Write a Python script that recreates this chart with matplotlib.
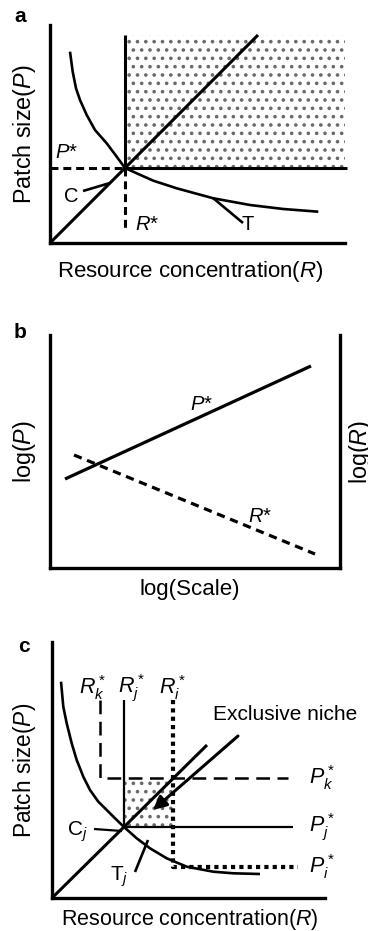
import matplotlib
matplotlib.use('Agg')
import matplotlib.pyplot as plt

plt.rcParams['font.family'] = ['Liberation Sans', 'DejaVu Sans']
plt.rcParams['mathtext.fontset'] = 'custom'
plt.rcParams['mathtext.rm'] = 'Liberation Sans'
plt.rcParams['mathtext.it'] = 'Liberation Sans:italic'
plt.rcParams['mathtext.bf'] = 'Liberation Sans:bold'
plt.rcParams['hatch.color'] = '#6a6a6a'
plt.rcParams['hatch.linewidth'] = 1.4

W, H = 368, 931

# ---- panel a (diagram units) ----
a_curve_R = [20, 22.7, 26, 30, 36.7, 45, 56.7, 66.7, 75, 86.7, 103.3, 126.7, 163.3, 200, 233.3, 268.3]
a_curve_P = [191.3, 171.3, 154.7, 143, 128, 113, 99.7, 86.3, 75, 69.7, 62.3, 54.7, 44.7, 38, 34, 31.3]
a_R_star, a_P_star = 75, 75
a_diag_end = 208
a_niche_R = [75, 295]
a_niche_P = [75, 208]
a_C_lead = ([33, 60], [52, 60])
a_T_lead = ([163, 193], [45, 20])

# ---- panel b ----
b_scale = [15, 261]
b_P_star = [89, 202]
b_scale_R = [24, 265]
b_R_star = [113, 14]

# ---- panel c ----
c_curve_R = [9, 11.3, 14.7, 19.7, 24.7, 31.3, 38, 46.3, 54.7, 63, 72, 84.7, 98, 114.7, 134.7, 161.3, 181.3, 208]
c_curve_P = [216.3, 191.3, 174.7, 154.7, 138, 121.3, 108, 96.3, 88, 79.7, 71, 59.7, 49.7, 39.7, 31.3, 26.3, 24.7, 24]
c_R_star = {'k': 48, 'j': 72, 'i': 121}
c_P_star = {'k': 120, 'j': 71, 'i': 31}
c_top = 198
c_line_end = {'k': 236, 'j': 241, 'i': 246}
c_diag_end = (155, 153)
c_arrow_from = (186, 162)
c_arrow_to = (101, 88)
c_C_lead = ([42, 70], [69, 67])
c_T_lead = ([96, 83], [58, 26])

fig = plt.figure(figsize=(W / 100, H / 100), dpi=100)


def px_axes(x0, y0, x1, y1, right=False):
    ax = fig.add_axes([x0 / W, 1 - y1 / H, (x1 - x0) / W, (y1 - y0) / H])
    ax.set_xlim(0, x1 - x0)
    ax.set_ylim(0, y1 - y0)
    ax.set_xticks([])
    ax.set_yticks([])
    ax.spines['top'].set_visible(False)
    ax.spines['right'].set_visible(right)
    for s in ax.spines.values():
        s.set_linewidth(2.4)
    ax.patch.set_alpha(0)
    return ax


def label_px(ax, x0, y0, x1, y1, xl, xly, yl, ylx=25, fs=16):
    ax.set_xlabel(xl, fontsize=fs, va='center', ha='center')
    ax.xaxis.set_label_coords((190 - x0) / (x1 - x0), (y1 - xly) / (y1 - y0))
    ax.set_ylabel(yl, fontsize=fs + 0.8, va='center', ha='center')
    ax.yaxis.set_label_coords((ylx - x0) / (x1 - x0), 0.5)


kw = dict(color='black', solid_capstyle='butt', clip_on=False)

# ================= a =================
box = (50, 25, 345, 243)
ax = px_axes(*box)
ax.fill_between(a_niche_R, a_niche_P[0], a_niche_P[1], facecolor='white',
                edgecolor='#6a6a6a', hatch='..', linewidth=0, clip_on=False)
ax.plot([a_R_star, a_R_star], [a_P_star, a_niche_P[1]], lw=2.2, **kw)
ax.plot([a_R_star, 297], [a_P_star, a_P_star], lw=2.2, **kw)
ax.plot([0, a_diag_end], [0, a_diag_end], lw=2.2, **kw)
ax.plot(a_curve_R, a_curve_P, lw=1.9, **kw)
ax.plot([0, a_R_star], [a_P_star, a_P_star], lw=2.2, dashes=(2.6, 1.6), **kw)
ax.plot([a_R_star, a_R_star], [a_P_star, 11], lw=2.2, dashes=(2.6, 1.6), **kw)
ax.plot(*a_C_lead, lw=1.9, **kw)
ax.plot(*a_T_lead, lw=1.9, **kw)
ax.text(21, 46, 'C', fontsize=14.5, ha='center', va='center')
ax.text(198, 18, 'T', fontsize=14.5, ha='center', va='center')
ax.text(17, 91, '$P$*', fontsize=14.5, ha='center', va='center')
ax.text(97, 18, '$R$*', fontsize=14.5, ha='center', va='center')
label_px(ax, *box, 'Resource concentration($R$)', 272, 'Patch size($P$)')
fig.text(20 / W, 1 - 16 / H, 'a', fontsize=15, fontweight='black', ha='center', va='center')

# ================= b =================
box = (50, 335, 340, 568)
ax = px_axes(*box, right=True)
ax.plot(b_scale, b_P_star, lw=2.3, **kw)
ax.plot(b_scale_R, b_R_star, lw=2.3, dashes=(2.6, 1.8), **kw)
ax.text(152, 163, '$P$*', fontsize=14.5, ha='center', va='center')
ax.text(210, 51, '$R$*', fontsize=14.5, ha='center', va='center')
label_px(ax, *box, 'log(Scale)', 590, 'log($P$)')
ax2 = ax.twinx()
ax2.set_yticks([])
ax2.set_ylabel('log($R$)', fontsize=16.8, va='center', ha='center', rotation=90)
ax2.yaxis.set_label_coords((361 - 50) / 290, 0.5)
for s in ax2.spines.values():
    s.set_visible(False)
fig.text(20 / W, 1 - 333 / H, 'b', fontsize=15, fontweight='black', ha='center', va='center')

# ================= c =================
box = (52, 642, 325, 898)
ax = px_axes(*box)
Rk, Rj, Ri = c_R_star['k'], c_R_star['j'], c_R_star['i']
Pk, Pj, Pi = c_P_star['k'], c_P_star['j'], c_P_star['i']
ax.fill_between([Rj, Ri], Pj, Pk, facecolor='white', edgecolor='#6a6a6a',
                hatch='..', linewidth=0)
ax.plot([Rk, Rk, c_line_end['k']], [c_top, Pk, Pk], lw=1.8, dashes=(5.5, 3), **kw)
ax.plot([Rj, Rj, c_line_end['j']], [c_top, Pj, Pj], lw=1.6, **kw)
ax.plot([Ri, Ri, c_line_end['i']], [c_top, Pi, Pi], lw=3.0, dashes=(1, 1), **kw)
ax.plot([0, c_diag_end[0]], [0, c_diag_end[1]], lw=2.2, **kw)
ax.plot(c_curve_R, c_curve_P, lw=1.9, **kw)
ax.annotate('', xy=c_arrow_to, xytext=c_arrow_from,
            arrowprops=dict(arrowstyle='-|>', lw=2.2, color='black', mutation_scale=20,
                            shrinkA=0, shrinkB=0))
ax.plot(*c_C_lead, lw=1.6, **kw)
ax.plot(*c_T_lead, lw=1.9, **kw)
ax.text(Rk - 7, 210, '$R_k^*$', fontsize=15.5, ha='center', va='center')
ax.text(Rj + 8, 210, '$R_j^*$', fontsize=15.5, ha='center', va='center')
ax.text(Ri, 210, '$R_i^*$', fontsize=15.5, ha='center', va='center')
for key, y in (('k', Pk), ('j', Pj), ('i', Pi)):
    ax.text(270, y, '$P_%s^*$' % key, fontsize=15.5, ha='center', va='center')
ax.text(25, 66, '$\\mathrm{C}_j$', fontsize=15, ha='center', va='center')
ax.text(67, 21, '$\\mathrm{T}_j$', fontsize=15, ha='center', va='center')
ax.text(233, 183, 'Exclusive niche', fontsize=15, ha='center', va='center')
label_px(ax, *box, 'Resource concentration($R$)', 920, 'Patch size($P$)', fs=15.5)
fig.text(24 / W, 1 - 647 / H, 'c', fontsize=15, fontweight='black', ha='center', va='center')

fig.savefig('out.png', dpi=100)
